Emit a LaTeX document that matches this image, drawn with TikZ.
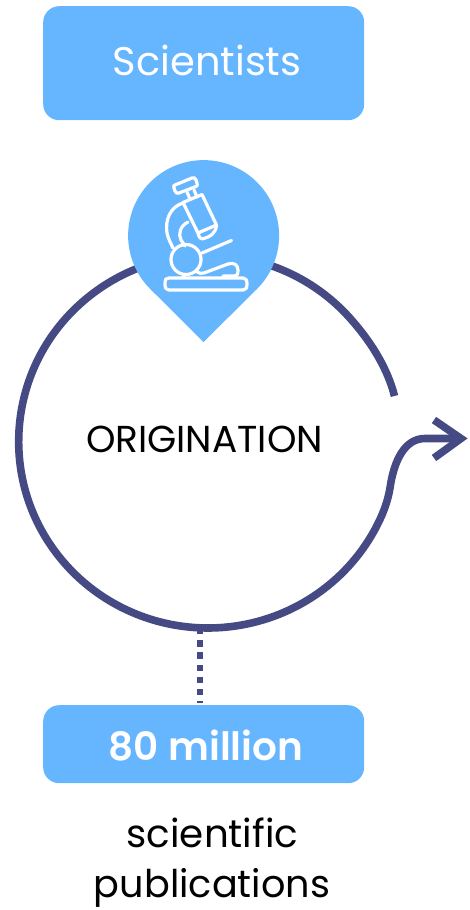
\documentclass[tikz,border=0pt]{standalone}
\usepackage{fontspec}
\setmainfont{Poppins}
\newfontfamily\semibold{Poppins SemiBold}
\definecolor{sky}{HTML}{66B5FF}
\definecolor{ink}{HTML}{464A84}
\tikzset{
  bluebox/.style={fill=sky,draw=none,rounded corners=16pt,inner sep=0pt,anchor=north west},
  ringline/.style={draw=ink,line width=7.6pt},
  iconline/.style={draw=white,line width=3.2pt,line cap=round,line join=round},
  lbl/.style={inner sep=0pt,align=center,text=black}
}
\begin{document}
\begin{tikzpicture}[x=1pt,y=-1pt]
\useasboundingbox (0,0) rectangle (470,910);
% ring
\coordinate (ringstart) at (394.5,396);
\coordinate (ringa) at (353,321.6);
\coordinate (ringc) at (390,488);
\coordinate (ringd) at (425,438.5);
\coordinate (tip) at (461,438.5);
\draw[ringline] (ringstart) .. controls (388,370) and (372.5,344) .. (ringa)
   arc[start angle=40,end angle=335,x radius=189.3pt,y radius=186.5pt]
   .. controls (384,511) and (388,500) .. (ringc)
   .. controls (394,460) and (405,438.5) .. (ringd) -- (tip);
\draw[ringline] (434,420) -- (tip) -- (434,458);
% dotted stem
\coordinate (stemtop) at (200,628);
\coordinate (stembottom) at (200,703);
\draw[draw=ink,line width=6pt,dash pattern=on 6.3pt off 5.9pt] (stemtop) -- (stembottom);
% boxes
\node[bluebox,minimum width=321pt,minimum height=114pt] (top) at (43,6) {};
\node[bluebox,minimum width=321pt,minimum height=78pt] (count) at (43,705) {};
\node[lbl,text=white,font=\fontsize{40}{40}\selectfont] (sci) at (207,60) {Scientists};
\node[lbl,text=white,font=\fontsize{39}{39}\selectfont\semibold] (mil) at (206,746) {80 million};
\node[lbl,font=\fontsize{37.5}{37.5}\selectfont] (ori) at (204.5,439) {ORIGINATION};
\node[lbl,font=\fontsize{38.8}{38.8}\selectfont] (pub1) at (212.5,833) {scientific};
\node[lbl,font=\fontsize{38.2}{38.2}\selectfont] (pub2) at (212,888) {publications};
% pin
\fill[sky] (203.5,342) -- (257,289) arc[start angle=-45,end angle=225,radius=75.5pt] -- cycle;
% microscope
\draw[iconline] (165,284) .. controls (165,279) and (166,278) .. (169,278) -- (243,278) .. controls (246,278) and (247,280) .. (247,284) .. controls (247,288) and (246,290) .. (243,290) -- (169,290) .. controls (166,290) and (165,288) .. (165,284) -- cycle;
\draw[iconline] (186,259.5) circle[radius=15pt];
\draw[iconline] (202,253) -- (231.5,240.5);
\draw[iconline] (183,276) -- (185,275) (197,272) .. controls (199,273) and (201,274) .. (204,273) -- (228,264) .. controls (234,262) and (238,265) .. (238,270) .. controls (238,274) and (237,276) .. (235,276) -- (223,276);
% arm
\draw[iconline] (183,203) .. controls (170,207) and (165,220) .. (167,233) .. controls (168,238) and (171,244) .. (173,248);
\draw[iconline] (188,222) .. controls (180,226) and (178,234) .. (181,240) -- (185,246);
% tube
\draw[iconline] (183,202.5) -- (202,194.5) -- (216.5,225) -- (198,233) -- cycle;
\draw[iconline] (198,233) .. controls (199,238) and (201,239.5) .. (204,238.5) .. controls (210,237) and (216,233) .. (216.5,225);
% neck and eyepiece
\draw[iconline] (187,192) -- (190,199) (194,190) -- (197,197);
\draw[iconline] (175,185) -- (192,178) .. controls (194,177) and (195,178) .. (196,180) -- (197,183) .. controls (198,185) and (197,186) .. (196,186.5) -- (179,193) .. controls (177,194) and (176,193) .. (175,191) -- (174,188) .. controls (173,186) and (174,185) .. (175,185) -- cycle;
\end{tikzpicture}
\end{document}
